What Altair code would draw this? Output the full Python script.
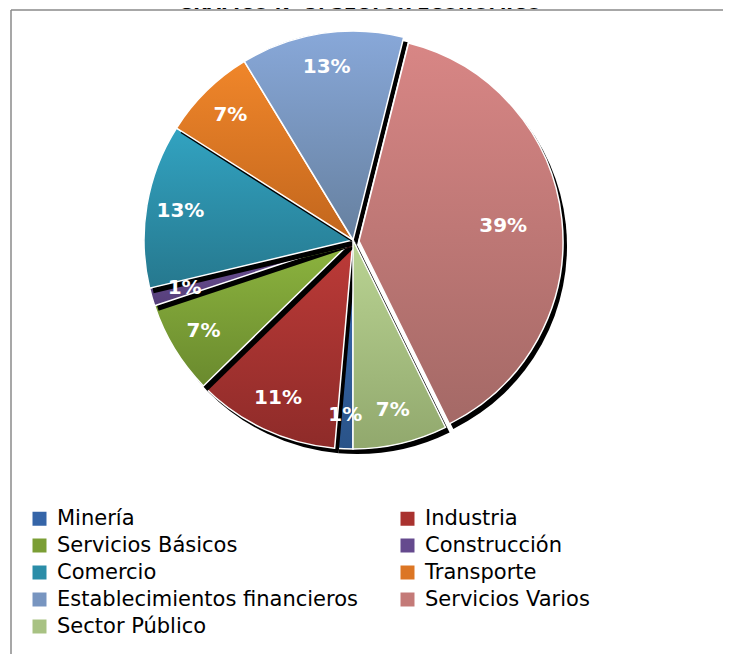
import math
import altair as alt
import pandas as pd

# ---- data ----
sectors = ["Minería", "Industria", "Servicios Básicos", "Construcción", "Comercio",
           "Transporte", "Establecimientos financieros", "Servicios Varios", "Sector Público"]
values = [1.4, 11.3, 7.2, 1.4, 12.7, 7.3, 12.6, 38.8, 7.3]
legend_colors = ["#3565a8", "#a9322f", "#7b9e35", "#654a8e", "#2b8da8",
                 "#dc7624", "#7895c0", "#c47a78", "#a8c283"]
top_colors = ["#3b6db4", "#bd3b38", "#8db53f", "#72569b", "#32a3c1",
              "#f0862a", "#88a8d9", "#d88685", "#bad493"]
bottom_colors = ["#2a5388", "#8e2b29", "#6a8a2e", "#553e7a", "#26788e",
                 "#c2661d", "#66809f", "#a46966", "#91a86d"]
exploded = "Servicios Varios"
title_text = "GRÁFICO N° 5: SECTOR ECONÓMICO"

# legend is read row by row (two columns); Vega fills its grid column by column
legend_values = sectors[0::2] + sectors[1::2]

# ---- layout / style ----
W, H = 715, 646
CX, CY, R = 345, 232, 209
EX_CX, EX_CY, EX_R = 351, 233, 204
SDX, SDY = 4, 5
START = math.pi
LABEL_R, EX_LABEL_R = 175, 145
FONT = "DejaVu Sans"

df = pd.DataFrame({"sector": sectors, "valor": values, "idx": list(range(len(sectors)))})

theta_scale = alt.Scale(domain=[0, 1], range=[START, START + 2 * math.pi])

base = (
    alt.Chart(df)
    .transform_window(cum="sum(valor)", sort=[alt.SortField("idx")], frame=[None, 0])
    .transform_joinaggregate(total="sum(valor)")
    .transform_calculate(
        t0="(datum.cum - datum.valor) / datum.total",
        t1="datum.cum / datum.total",
        tm="(2 * datum.cum - datum.valor) / (2 * datum.total)",
        pct="datum.valor / datum.total",
    )
)

theta = alt.Theta("t0:Q", scale=theta_scale, stack=None)
theta2 = alt.Theta2("t1:Q")

legend = alt.Legend(
    title=None, orient="none", legendX=21, legendY=500, columns=2,
    values=legend_values,
    symbolType="square", symbolSize=196, symbolStrokeWidth=0,
    labelFont=FONT, labelFontSize=21, labelColor="black", labelLimit=500,
    columnPadding=39, rowPadding=5, labelOffset=7,
)
color = alt.Color("sector:N", scale=alt.Scale(domain=sectors, range=legend_colors), legend=legend)

layers = []
for i, s in enumerate(sectors):
    if s == exploded:
        cx, cy, r = EX_CX, EX_CY, EX_R
    else:
        cx, cy, r = CX, CY, R
    sub = base.transform_filter(alt.datum.sector == s)
    shadow = sub.mark_arc(radius=r, fill="black", stroke=None).encode(
        theta=theta, theta2=theta2, x=alt.value(cx + SDX), y=alt.value(cy + SDY))
    flat = sub.mark_arc(radius=r, strokeWidth=0).encode(
        theta=theta, theta2=theta2, color=color, x=alt.value(cx), y=alt.value(cy))
    grad = sub.mark_arc(
        radius=r, stroke="white", strokeWidth=1.5,
        fill=alt.LinearGradient(
            gradient="linear", x1=0, y1=0, x2=0, y2=1,
            stops=[alt.GradientStop(color=top_colors[i], offset=0),
                   alt.GradientStop(color=bottom_colors[i], offset=1)]),
    ).encode(theta=theta, theta2=theta2, x=alt.value(cx), y=alt.value(cy))
    layers += [shadow, flat, grad]

label_style = dict(font=FONT, fontWeight="bold", fontSize=20, color="white",
                   align="center", baseline="middle")
labels = base.transform_filter(alt.datum.sector != exploded).mark_text(**label_style).encode(
    theta=alt.Theta("tm:Q", scale=theta_scale, stack=None),
    radius=alt.value(LABEL_R),
    text=alt.Text("pct:Q", format=".0%"),
    x=alt.value(CX), y=alt.value(CY),
)
ex_label = base.transform_filter(alt.datum.sector == exploded).mark_text(**label_style).encode(
    theta=alt.Theta("tm:Q", scale=theta_scale, stack=None),
    radius=alt.value(EX_LABEL_R),
    text=alt.Text("pct:Q", format=".0%"),
    x=alt.value(EX_CX), y=alt.value(EX_CY),
)

one = pd.DataFrame({"t": [title_text]})
frame_top = alt.Chart(one).mark_rule(color="#8a8a8a", strokeWidth=1.5).encode(
    x=alt.value(3), x2=alt.value(W), y=alt.value(2))
frame_left = alt.Chart(one).mark_rule(color="#8a8a8a", strokeWidth=1.5).encode(
    x=alt.value(3), y=alt.value(2), y2=alt.value(H))
title = alt.Chart(one).mark_text(font=FONT, fontWeight="bold", fontSize=18, color="black",
                                 align="center", baseline="alphabetic").encode(
    text="t:N", x=alt.value(352), y=alt.value(1))

chart = alt.layer(frame_top, frame_left, title, *layers, labels, ex_label).properties(
    width=W, height=H,
    autosize=alt.AutoSizeParams(type="none"),
    padding=0,
    background="white",
).configure_view(stroke=None)

chart.save("out.html", embed_options={"renderer": "svg", "actions": False})
